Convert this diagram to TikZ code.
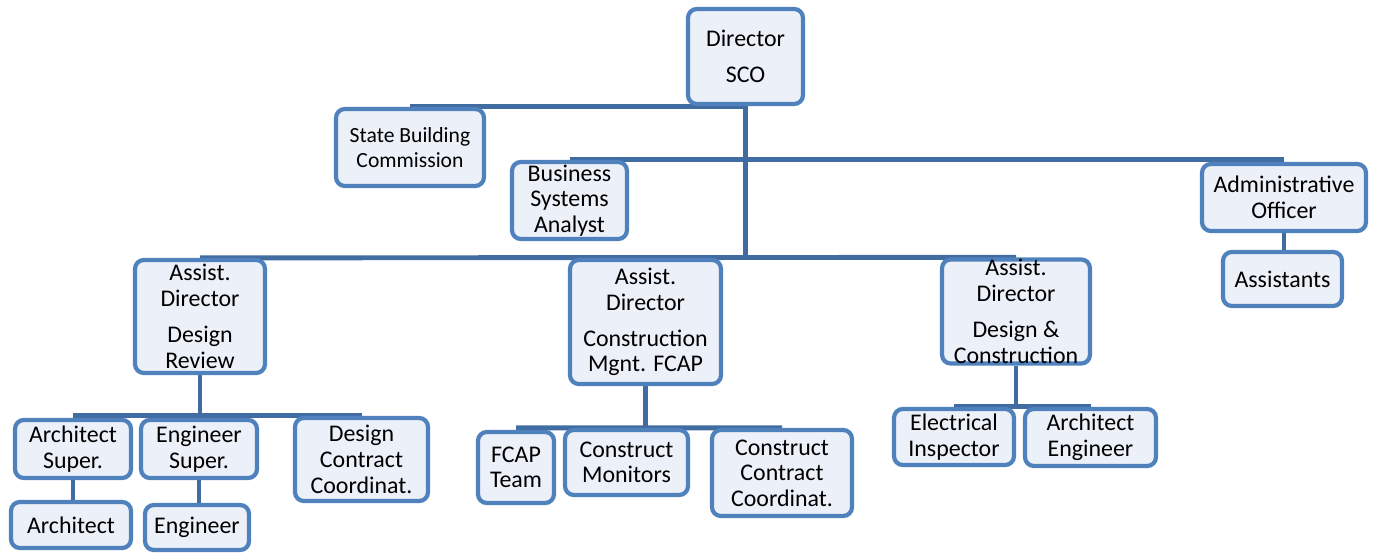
\documentclass[tikz,border=0pt]{standalone}
\usepackage{fontspec}
\setmainfont{Carlito}
\usetikzlibrary{backgrounds}
\definecolor{unitedge}{RGB}{79,129,189}
\definecolor{unitfill}{RGB}{236,240,248}
\definecolor{linkblue}{RGB}{65,108,162}
\tikzset{
	unit/.style={draw=unitedge, fill=unitfill, line width=2.4pt, rounded corners=5pt,
		inner sep=0pt, align=center, font=\fontsize{13.6}{14.6}\selectfont},
	link/.style={draw=linkblue, line width=2.8pt}
}
\begin{document}
\begin{tikzpicture}[x=0.02cm, y=-0.02cm]
	\useasboundingbox (0,0) rectangle (1374,554);
	%Director
	\node[unit, minimum width=2.30cm, minimum height=1.90cm] (dir) at (745.5,56.5) {Director\\[6pt]SCO};
	%Staff
	\node[unit, minimum width=2.96cm, minimum height=1.54cm, font=\fontsize{12.3}{14}\selectfont] (sbc) at (410,147.5) {State Building\\Commission};
	\node[unit, minimum width=2.30cm, minimum height=1.54cm] (bsa) at (569.5,200.5) {Business\\Systems\\Analyst};
	\node[unit, minimum width=3.28cm, minimum height=1.34cm] (adm) at (1284,197.5) {Administrative\\Officer};
	\node[unit, minimum width=2.38cm, minimum height=1.08cm] (ast) at (1282.5,279) {Assistants};
	%Assistant Directors
	\node[unit, minimum width=2.60cm, minimum height=2.26cm] (adr) at (200,316.5) {Assist.\\Director\\[6pt]Design\\Review};
	\node[unit, minimum width=3.02cm, minimum height=2.48cm] (ads) at (645.5,322) {Assist.\\Director\\[6pt]Construction\\Mgnt. FCAP};
	\node[unit, minimum width=2.96cm, minimum height=2.06cm] (adc) at (1016,311.5) {Assist.\\Director\\[6pt]Design \&\\Construction};
	%Design Review
	\node[unit, minimum width=2.32cm, minimum height=1.16cm] (asu) at (73,449) {Architect\\Super.};
	\node[unit, minimum width=2.32cm, minimum height=1.16cm] (esu) at (199,449) {Engineer\\Super.};
	\node[unit, minimum width=2.66cm, minimum height=1.66cm] (dcc) at (361.5,459.5) {Design\\Contract\\Coordinat.};
	\node[unit, minimum width=2.40cm, minimum height=0.92cm] (arc) at (71,525) {Architect};
	\node[unit, minimum width=2.08cm, minimum height=0.90cm] (eng) at (197,527.5) {Engineer};
	%Construction
	\node[unit, minimum width=1.52cm, minimum height=1.42cm] (fct) at (516,467.5) {FCAP\\Team};
	\node[unit, minimum width=2.46cm, minimum height=1.30cm] (cmo) at (626.5,462.5) {Construct\\Monitors};
	\node[unit, minimum width=2.80cm, minimum height=1.72cm] (ccc) at (782,473) {Construct\\Contract\\Coordinat.};
	%Design & Construction
	\node[unit, minimum width=2.40cm, minimum height=1.12cm] (ein) at (954,437) {Electrical\\Inspector};
	\node[unit, minimum width=2.62cm, minimum height=1.14cm] (aen) at (1090.5,437.5) {Architect\\Engineer};

	\begin{scope}[on background layer]
	%Top level
	\draw[link] (dir.south) -- (dir.south |- ads.north);
	\draw[link] (sbc.north) -- (sbc.north -| dir.south);
	\draw[link] (bsa.north) -- (bsa.north -| adm.north);
	\draw[link] (adr.north) -- (adc.north);
	\draw[link] (adm.south) -- (adm.south |- ast.north);
	%Design Review
	\draw[link] (adr.south) -- (adr.south |- dcc.north);
	\draw[link] (asu.north |- dcc.north) -- (dcc.north);
	\draw[link] (asu.south) -- (asu.south |- arc.north);
	\draw[link] (esu.south) -- (esu.south |- eng.north);
	%Construction
	\draw[link] (ads.south) -- (ads.south |- cmo.north);
	\draw[link] (fct.north |- cmo.north) -- (ccc.north);
	%Design & Construction
	\draw[link] (adc.south) -- (adc.south |- ein.north);
	\draw[link] (ein.north) -- (aen.north);
	\end{scope}
\end{tikzpicture}
\end{document}
